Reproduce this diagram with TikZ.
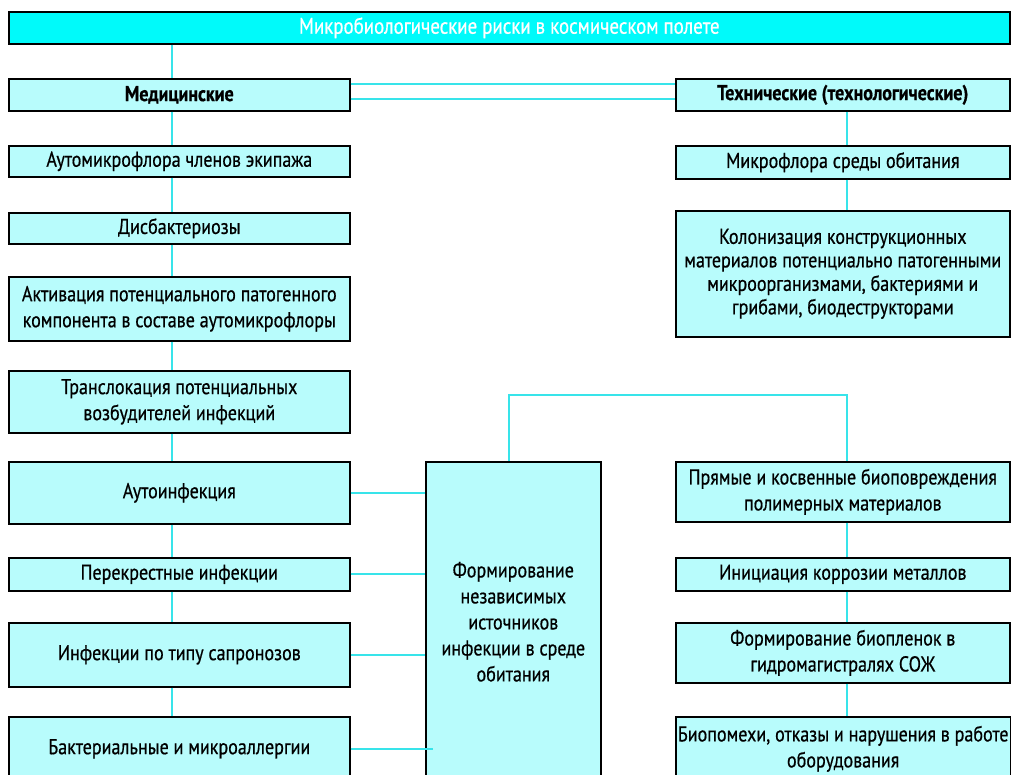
\documentclass[tikz,border=0pt]{standalone}
\usepackage{fontspec}
\setmainfont{PT Sans}[FakeStretch=0.84, FakeBold=0.6]
\usetikzlibrary{positioning}

\definecolor{riskcyan}{HTML}{00FAFA}
\definecolor{boxcyan}{HTML}{B8FCFC}
\definecolor{linkcyan}{HTML}{38E4EA}

\begin{document}
\begin{tikzpicture}[x=1pt, y=-1pt,
		riskbox/.style={
			rectangle,
			draw=black, line width=1.6pt,
			fill=boxcyan,
			anchor=north west,
			inner sep=2pt,
			align=center,
			font=\fontsize{21.5}{26}\selectfont},
		leftbox/.style={riskbox, minimum width=341pt},
		rightbox/.style={riskbox, minimum width=334pt},
		link/.style={draw=linkcyan, line width=2pt}]
		\useasboundingbox (0,0) rectangle (1011,775);
		\clip (0,0) rectangle (1011,775);
		\fill[white] (0,0) rectangle (1011,775);
		% headings
		\node[riskbox, fill=riskcyan, text=white, minimum width=1001pt, minimum height=32pt, font=\fontsize{22.5}{26}\selectfont] (title) at (8,11) {Микробиологические риски в космическом полете};
		\node[leftbox, minimum height=32pt, font=\fontsize{21.5}{26}\selectfont\bfseries] (med) at (8,78) {Медицинские};
		\node[rightbox, minimum height=32pt, font=\fontsize{21.5}{26}\selectfont\bfseries] (tech) at (675,78) {Технические (технологические)};
		% medical column
		\node[leftbox, minimum height=31pt] (a1) at (8,145) {Аутомикрофлора членов экипажа};
		\node[leftbox, minimum height=31pt] (a2) at (8,212) {Дисбактериозы};
		\node[leftbox, minimum height=64pt] (a3) at (8,276) {Активация потенциального патогенного\\компонента в составе аутомикрофлоры};
		\node[leftbox, minimum height=62pt] (a4) at (8,370) {Транслокация потенциальных\\возбудителей инфекций};
		\node[leftbox, minimum height=62pt] (a5) at (8,461) {Аутоинфекция};
		\node[leftbox, minimum height=33pt] (a6) at (8,557) {Перекрестные инфекции};
		\node[leftbox, minimum height=64pt] (a7) at (8,622) {Инфекции по типу сапронозов};
		\node[leftbox, minimum height=64pt] (a8) at (8,716) {Бактериальные и микроаллергии};
		% technical column
		\node[rightbox, minimum height=33pt] (b1) at (675,145) {Микрофлора среды обитания};
		\node[rightbox, minimum height=126pt, font=\fontsize{21.5}{23.5}\selectfont] (b2) at (675,210) {Колонизация конструкционных\\материалов потенциально патогенными\\микроорганизмами, бактериями и\\грибами, биодеструкторами};
		\node[rightbox, minimum height=60pt] (b3) at (675,461) {Прямые и косвенные биоповреждения\\полимерных материалов};
		\node[rightbox, minimum height=33pt] (b4) at (675,557) {Инициация коррозии металлов};
		\node[rightbox, minimum height=60pt] (b5) at (675,622) {Формирование биопленок в\\гидромагистралях СОЖ};
		\node[rightbox, minimum height=64pt] (b6) at (675,716) {Биопомехи, отказы и нарушения в работе\\оборудования};
		% common sources
		\node[riskbox, minimum width=175pt, minimum height=320pt, font=\fontsize{21.5}{26}\selectfont] (ctr) at (425,461) {Формирование\\независимых\\источников\\инфекции в среде\\обитания};
		\coordinate (lx) at (172,0);
		\coordinate (rx) at (847,0);
		\draw[link] (title.south -| lx) -- (med.north -| lx);
		\foreach \u/\v in {med/a1, a1/a2, a2/a3, a3/a4, a4/a5, a5/a6, a6/a7, a7/a8}
			\draw[link] (\u.south -| lx) -- (\v.north -| lx);
		\foreach \u/\v in {tech/b1, b1/b2, b3/b4, b4/b5, b5/b6}
			\draw[link] (\u.south -| rx) -- (\v.north -| rx);
		\draw[link] ([yshift=-6pt]med.north east) -- ([yshift=-6pt]tech.north west);
		\draw[link] ([yshift=-21pt]med.north east) -- ([yshift=-21pt]tech.north west);
		\draw[link] ([xshift=-4pt]ctr.north) -- ++(0,-66) -| (b3.north -| rx);
		\foreach \n in {a5, a6, a7}
			\draw[link] (\n.east) -- (\n.east -| ctr.west);
		\draw[link] (a8.east) -- ([xshift=8pt]a8.east -| ctr.west);
	\end{tikzpicture}
\end{document}
